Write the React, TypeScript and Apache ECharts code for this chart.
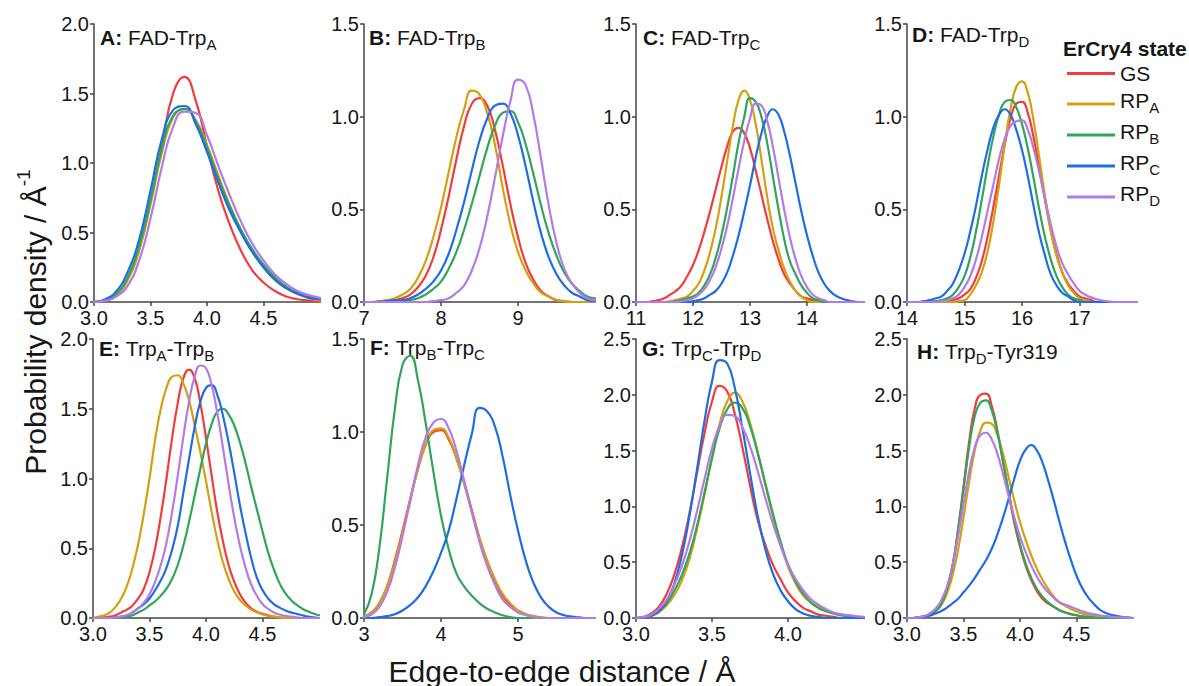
import React, { useEffect, useRef } from "react";
import * as echarts from "echarts";

const FONT = '"Liberation Sans", Arial, Helvetica, sans-serif';
const TXT = "#161616";
const AXIS = "#454545";
const COLORS = ["#f23c3c", "#d4a010", "#2fa65a", "#1f6de2", "#b47be6"];
const NAMES = ["GS", "RP_A", "RP_B", "RP_C", "RP_D"];

// ---------- x sampling grids ----------
const xA = [3.0,3.1,3.2,3.3,3.4,3.5,3.6,3.7,3.8,3.9,4.0,4.1,4.2,4.3,4.4,4.5,4.6,4.7,4.8,4.9,5.0];
const xB = [7.0,7.1,7.2,7.3,7.4,7.5,7.6,7.7,7.8,7.9,8.0,8.1,8.2,8.3,8.4,8.5,8.6,8.7,8.8,8.9,9.0,9.1,9.2,9.3,9.4,9.5,9.6,9.7,9.8,9.9,10.0];
const xC = [11.0,11.1,11.2,11.3,11.4,11.5,11.6,11.7,11.8,11.9,12.0,12.1,12.2,12.3,12.4,12.5,12.6,12.7,12.8,12.9,13.0,13.1,13.2,13.3,13.4,13.5,13.6,13.7,13.8,13.9,14.0,14.1,14.2,14.3,14.4,14.5,14.6,14.7,14.8,14.9,15.0];
const xD = [14.0,14.1,14.2,14.3,14.4,14.5,14.6,14.7,14.8,14.9,15.0,15.1,15.2,15.3,15.4,15.5,15.6,15.7,15.8,15.9,16.0,16.1,16.2,16.3,16.4,16.5,16.6,16.7,16.8,16.9,17.0,17.1,17.2,17.3,17.4,17.5,17.6,17.7,17.8,17.9,18.0];
const xE = [3.00,3.05,3.10,3.15,3.20,3.25,3.30,3.35,3.40,3.45,3.50,3.55,3.60,3.65,3.70,3.75,3.80,3.85,3.90,3.95,4.00,4.05,4.10,4.15,4.20,4.25,4.30,4.35,4.40,4.45,4.50,4.55,4.60,4.65,4.70,4.75,4.80,4.85,4.90,4.95,5.00];
const xF = [3.0,3.1,3.2,3.3,3.4,3.5,3.6,3.7,3.8,3.9,4.0,4.1,4.2,4.3,4.4,4.5,4.6,4.7,4.8,4.9,5.0,5.1,5.2,5.3,5.4,5.5,5.6,5.7,5.8,5.9,6.0];
const xG = [3.00,3.05,3.10,3.15,3.20,3.25,3.30,3.35,3.40,3.45,3.50,3.55,3.60,3.65,3.70,3.75,3.80,3.85,3.90,3.95,4.00,4.05,4.10,4.15,4.20,4.25,4.30,4.35,4.40,4.45,4.50];
const xH = [3.00,3.05,3.10,3.15,3.20,3.25,3.30,3.35,3.40,3.45,3.50,3.55,3.60,3.65,3.70,3.75,3.80,3.85,3.90,3.95,4.00,4.05,4.10,4.15,4.20,4.25,4.30,4.35,4.40,4.45,4.50,4.55,4.60,4.65,4.70,4.75,4.80,4.85,4.90,4.95,5.00];

// ---------- A: FAD-TrpA ----------
const aGS  = [0,0.01,0.05,0.17,0.38,0.72,1.12,1.50,1.62,1.45,1.12,0.80,0.56,0.37,0.23,0.14,0.08,0.04,0.02,0.01,0];
const aRPA = [0,0.01,0.05,0.16,0.37,0.70,1.07,1.33,1.39,1.31,1.13,0.91,0.70,0.52,0.37,0.25,0.16,0.10,0.06,0.03,0.01];
const aRPB = [0,0.01,0.06,0.18,0.40,0.73,1.10,1.34,1.39,1.30,1.11,0.89,0.69,0.52,0.38,0.27,0.18,0.11,0.07,0.04,0.02];
const aRPC = [0,0.02,0.08,0.22,0.45,0.80,1.17,1.38,1.41,1.28,1.08,0.86,0.66,0.50,0.36,0.25,0.16,0.10,0.06,0.03,0.02];
const aRPD = [0,0.01,0.04,0.12,0.30,0.60,0.97,1.26,1.37,1.36,1.20,0.98,0.77,0.58,0.42,0.30,0.20,0.13,0.08,0.05,0.03];

// ---------- B: FAD-TrpB ----------
const bGS  = [0,0,0,0.005,0.01,0.02,0.04,0.08,0.14,0.24,0.39,0.57,0.77,0.95,1.07,1.10,1.06,0.93,0.74,0.53,0.35,0.21,0.12,0.06,0.03,0.01,0.005,0,0,0,0];
const bRPA = [0,0,0.005,0.01,0.02,0.04,0.07,0.13,0.22,0.35,0.51,0.70,0.89,1.04,1.14,1.12,1.02,0.85,0.62,0.42,0.27,0.17,0.10,0.05,0.03,0.01,0.005,0,0,0,0];
const bRPB = [0,0,0,0,0,0.005,0.01,0.02,0.04,0.07,0.11,0.18,0.27,0.39,0.53,0.68,0.83,0.95,1.02,1.03,0.97,0.85,0.69,0.52,0.37,0.25,0.16,0.10,0.06,0.03,0.02];
const bRPC = [0,0,0.002,0.005,0.01,0.01,0.02,0.04,0.07,0.11,0.17,0.26,0.39,0.54,0.71,0.87,0.99,1.06,1.07,1.02,0.90,0.73,0.54,0.37,0.24,0.15,0.09,0.05,0.03,0.01,0.005];
const bRPD = [0,0,0,0,0,0,0,0,0,0.005,0.01,0.02,0.05,0.09,0.17,0.29,0.46,0.67,0.89,1.08,1.20,1.17,1.01,0.77,0.52,0.32,0.18,0.10,0.05,0.02,0.01];

// ---------- C: FAD-TrpC ----------
const cGS  = [0,0,0,0.005,0.01,0.02,0.04,0.06,0.09,0.14,0.20,0.28,0.38,0.49,0.61,0.73,0.84,0.92,0.94,0.91,0.83,0.71,0.58,0.45,0.33,0.23,0.15,0.10,0.06,0.03,0.02,0.01,0.005,0,0,0,0,0,0,0,0];
const cRPA = [0,0,0,0,0,0,0.005,0.01,0.02,0.03,0.06,0.10,0.17,0.27,0.40,0.57,0.76,0.95,1.09,1.14,1.09,0.96,0.77,0.57,0.40,0.28,0.18,0.11,0.06,0.03,0.01,0,0,0,0,0,0,0,0,0,0];
const cRPB = [0,0,0,0,0,0,0,0.005,0.01,0.02,0.03,0.05,0.09,0.15,0.24,0.36,0.51,0.68,0.86,1.00,1.10,1.08,1.00,0.86,0.68,0.50,0.34,0.22,0.15,0.09,0.05,0.02,0.01,0,0,0,0,0,0,0,0];
const cRPC = [0,0,0,0,0,0,0,0,0,0,0.005,0.01,0.02,0.04,0.06,0.10,0.16,0.25,0.36,0.49,0.63,0.78,0.91,1.00,1.04,1.01,0.92,0.79,0.64,0.49,0.36,0.25,0.16,0.10,0.06,0.035,0.02,0.01,0.004,0,0];
const cRPD = [0,0,0,0,0,0,0,0,0.005,0.01,0.02,0.04,0.07,0.12,0.19,0.29,0.41,0.56,0.72,0.87,0.99,1.07,1.06,0.98,0.84,0.67,0.50,0.35,0.23,0.14,0.08,0.04,0.02,0.01,0,0,0,0,0,0,0];

// ---------- D: FAD-TrpD ----------
const dGS  = [0,0,0,0,0,0,0,0.005,0.01,0.02,0.04,0.07,0.13,0.22,0.35,0.51,0.68,0.85,0.99,1.07,1.08,1.02,0.89,0.72,0.55,0.39,0.26,0.16,0.10,0.06,0.03,0.02,0.01,0,0,0,0,0,0,0,0];
const dRPA = [0,0,0,0,0,0,0,0,0,0.005,0.01,0.04,0.09,0.16,0.27,0.43,0.63,0.85,1.04,1.16,1.19,1.13,0.98,0.78,0.57,0.38,0.25,0.16,0.09,0.05,0.02,0.01,0,0,0,0,0,0,0,0,0];
const dRPB = [0,0,0,0,0,0.005,0.01,0.02,0.04,0.08,0.14,0.24,0.38,0.55,0.73,0.89,1.01,1.08,1.09,1.05,0.96,0.83,0.67,0.50,0.35,0.23,0.14,0.08,0.04,0.02,0.01,0,0,0,0,0,0,0,0,0,0];
const dRPC = [0,0,0,0.005,0.01,0.02,0.03,0.06,0.10,0.17,0.26,0.38,0.52,0.68,0.82,0.94,1.01,1.04,1.01,0.93,0.82,0.68,0.52,0.37,0.25,0.15,0.09,0.05,0.03,0.01,0,0,0,0,0,0,0,0,0,0,0];
const dRPD = [0,0,0,0,0,0,0.005,0.01,0.02,0.04,0.08,0.14,0.23,0.35,0.49,0.63,0.77,0.88,0.95,0.975,0.98,0.93,0.83,0.70,0.56,0.42,0.30,0.21,0.15,0.10,0.06,0.04,0.025,0.015,0.008,0.004,0,0,0,0,0];

// ---------- E: TrpA-TrpB ----------
const eGS  = [0,0,0.005,0.01,0.02,0.04,0.06,0.09,0.14,0.21,0.33,0.50,0.73,1.00,1.29,1.54,1.72,1.78,1.72,1.54,1.29,1.02,0.76,0.55,0.38,0.26,0.17,0.11,0.07,0.045,0.03,0.02,0.01,0.005,0,0,0,0,0,0,0];
const eRPA = [0,0.01,0.02,0.04,0.08,0.14,0.23,0.36,0.53,0.75,1.00,1.28,1.50,1.65,1.73,1.74,1.68,1.56,1.38,1.19,0.98,0.76,0.56,0.40,0.28,0.19,0.13,0.09,0.06,0.04,0.025,0.015,0.01,0.005,0,0,0,0,0,0,0];
const eRPB = [0,0,0,0,0,0.005,0.01,0.02,0.04,0.06,0.09,0.12,0.16,0.21,0.28,0.38,0.52,0.69,0.88,1.07,1.25,1.39,1.48,1.50,1.46,1.38,1.26,1.11,0.94,0.78,0.62,0.47,0.35,0.25,0.18,0.13,0.095,0.068,0.048,0.032,0.02];
const eRPC = [0,0,0,0,0.005,0.01,0.02,0.04,0.07,0.10,0.14,0.20,0.27,0.36,0.49,0.66,0.90,1.14,1.37,1.55,1.65,1.67,1.60,1.45,1.26,1.04,0.81,0.61,0.43,0.29,0.20,0.14,0.10,0.075,0.055,0.04,0.03,0.02,0.01,0.005,0];
const eRPD = [0,0,0,0,0.005,0.01,0.02,0.04,0.07,0.11,0.17,0.26,0.38,0.54,0.76,1.02,1.30,1.55,1.73,1.81,1.79,1.67,1.47,1.22,0.96,0.72,0.52,0.36,0.24,0.16,0.10,0.065,0.04,0.025,0.015,0.01,0.005,0,0,0,0];

// ---------- F: TrpB-TrpC ----------
const fGS  = [0.01,0.03,0.08,0.17,0.31,0.47,0.64,0.80,0.93,1.00,1.01,0.96,0.86,0.73,0.58,0.43,0.30,0.20,0.12,0.07,0.04,0.02,0.01,0,0,0,0,0,0,0,0];
const fRPA = [0.01,0.03,0.08,0.17,0.30,0.46,0.63,0.80,0.93,1.01,1.02,0.97,0.86,0.72,0.57,0.43,0.31,0.21,0.13,0.08,0.04,0.02,0.01,0.005,0,0,0,0,0,0,0];
const fRPB = [0.02,0.13,0.38,0.75,1.12,1.36,1.41,1.28,1.05,0.79,0.55,0.37,0.24,0.17,0.12,0.08,0.05,0.03,0.015,0.005,0,0,0,0,0,0,0,0,0,0,0];
const fRPC = [0,0,0.005,0.01,0.02,0.04,0.07,0.11,0.17,0.25,0.35,0.47,0.64,0.82,0.99,1.13,1.11,1.03,0.87,0.66,0.47,0.31,0.19,0.11,0.06,0.03,0.015,0.007,0.003,0,0];
const fRPD = [0.005,0.02,0.06,0.14,0.27,0.44,0.63,0.82,0.97,1.05,1.07,1.02,0.90,0.74,0.57,0.41,0.28,0.18,0.10,0.06,0.03,0.015,0.005,0,0,0,0,0,0,0,0];

// ---------- G: TrpC-TrpD ----------
const gGS  = [0,0.01,0.04,0.10,0.21,0.38,0.62,0.93,1.29,1.65,1.94,2.08,2.03,1.83,1.53,1.19,0.88,0.66,0.48,0.35,0.23,0.15,0.09,0.06,0.03,0.02,0.01,0,0,0,0];
const gRPA = [0,0.005,0.02,0.05,0.11,0.20,0.33,0.52,0.79,1.10,1.44,1.74,1.94,2.02,1.94,1.75,1.49,1.20,0.92,0.67,0.46,0.31,0.20,0.14,0.10,0.07,0.04,0.025,0.015,0.01,0.005];
const gRPB = [0,0.005,0.02,0.06,0.13,0.24,0.38,0.57,0.82,1.12,1.43,1.70,1.87,1.93,1.88,1.72,1.48,1.21,0.94,0.69,0.48,0.33,0.22,0.14,0.09,0.06,0.04,0.025,0.015,0.01,0.005];
const gRPC = [0,0.005,0.02,0.06,0.15,0.30,0.55,0.90,1.32,1.76,2.12,2.31,2.28,2.06,1.70,1.30,0.92,0.62,0.40,0.25,0.15,0.08,0.04,0.02,0.01,0,0,0,0,0,0];
const gRPD = [0,0.01,0.03,0.08,0.16,0.29,0.46,0.68,0.95,1.24,1.52,1.72,1.82,1.81,1.71,1.54,1.32,1.08,0.85,0.65,0.48,0.35,0.25,0.17,0.12,0.08,0.05,0.035,0.025,0.015,0.01];

// ---------- H: TrpD-Tyr319 ----------
const hGS  = [0,0,0.005,0.015,0.03,0.06,0.12,0.25,0.45,0.78,1.18,1.58,1.88,2.00,2.01,1.90,1.68,1.40,1.12,0.85,0.64,0.47,0.34,0.24,0.17,0.13,0.10,0.07,0.05,0.035,0.025,0.015,0.01,0.005,0,0,0,0,0,0,0];
const hRPA = [0,0,0.005,0.01,0.03,0.06,0.11,0.21,0.37,0.60,0.90,1.22,1.50,1.68,1.75,1.74,1.64,1.47,1.26,1.05,0.86,0.70,0.56,0.44,0.34,0.26,0.19,0.14,0.11,0.08,0.06,0.04,0.03,0.02,0.015,0.01,0.005,0,0,0,0];
const hRPB = [0,0,0.005,0.015,0.03,0.06,0.12,0.25,0.45,0.77,1.15,1.53,1.81,1.93,1.95,1.86,1.66,1.40,1.13,0.87,0.66,0.49,0.36,0.26,0.19,0.14,0.10,0.07,0.05,0.035,0.025,0.015,0.01,0.005,0,0,0,0,0,0,0];
const hRPC = [0,0,0.005,0.01,0.02,0.04,0.06,0.09,0.13,0.17,0.23,0.29,0.36,0.44,0.52,0.62,0.75,0.90,1.07,1.25,1.41,1.51,1.55,1.50,1.39,1.23,1.05,0.86,0.68,0.52,0.38,0.27,0.19,0.13,0.08,0.05,0.03,0.02,0.01,0.005,0];
const hRPD = [0,0,0.005,0.015,0.04,0.08,0.15,0.27,0.46,0.72,1.02,1.31,1.53,1.64,1.66,1.60,1.47,1.29,1.09,0.90,0.73,0.59,0.47,0.37,0.29,0.23,0.18,0.14,0.12,0.10,0.08,0.06,0.045,0.035,0.025,0.018,0.012,0.008,0.005,0.003,0];

// ---------- panel layout ----------
const PANELS = [
  { x: xA, ys: [aGS, aRPA, aRPB, aRPC, aRPD], xMin: 3, xMax: 5, xInt: 0.5, dec: 1, yMax: 2.0, left: 94, top: 24, width: 226, height: 278,
    title: "{b|A:}{t|\u00a0FAD-Trp}{s|A}", tx: 100, ty: 27 },
  { x: xB, ys: [bGS, bRPA, bRPB, bRPC, bRPD], xMin: 7, xMax: 10, xInt: 1, dec: 0, yMax: 1.5, left: 364, top: 24, width: 231, height: 278,
    title: "{b|B:}{t|\u00a0FAD-Trp}{s|B}", tx: 369, ty: 27 },
  { x: xC, ys: [cGS, cRPA, cRPB, cRPC, cRPD], xMin: 11, xMax: 15, xInt: 1, dec: 0, yMax: 1.5, left: 636, top: 24, width: 228, height: 278,
    title: "{b|C:}{t|\u00a0FAD-Trp}{s|C}", tx: 643, ty: 27 },
  { x: xD, ys: [dGS, dRPA, dRPB, dRPC, dRPD], xMin: 14, xMax: 18, xInt: 1, dec: 0, yMax: 1.5, left: 907, top: 24, width: 230, height: 278,
    title: "{b|D:}{t|\u00a0FAD-Trp}{s|D}", tx: 912, ty: 24 },
  { x: xE, ys: [eGS, eRPA, eRPB, eRPC, eRPD], xMin: 3, xMax: 5, xInt: 0.5, dec: 1, yMax: 2.0, left: 93, top: 339, width: 226, height: 279,
    title: "{b|E:}{t|\u00a0Trp}{s|A}{t|-Trp}{s|B}", tx: 99, ty: 338 },
  { x: xF, ys: [fGS, fRPA, fRPB, fRPC, fRPD], xMin: 3, xMax: 6, xInt: 1, dec: 0, yMax: 1.5, left: 364, top: 339, width: 231, height: 279,
    title: "{b|F:}{t|\u00a0Trp}{s|B}{t|-Trp}{s|C}", tx: 370, ty: 337 },
  { x: xG, ys: [gGS, gRPA, gRPB, gRPC, gRPD], xMin: 3, xMax: 4.5, xInt: 0.5, dec: 1, yMax: 2.5, left: 636, top: 339, width: 228, height: 279,
    title: "{b|G:}{t|\u00a0Trp}{s|C}{t|-Trp}{s|D}", tx: 642, ty: 338 },
  { x: xH, ys: [hGS, hRPA, hRPB, hRPC, hRPD], xMin: 3, xMax: 5, xInt: 0.5, dec: 1, yMax: 2.5, left: 907, top: 339, width: 226, height: 279,
    title: "{b|H:}{t|\u00a0Trp}{s|D}{t|-Tyr319}", tx: 917, ty: 341 },
];

const titleRich = {
  b: { fontFamily: FONT, fontSize: 21, fontWeight: "bold", color: TXT, verticalAlign: "bottom", lineHeight: 22, padding: [0, 0, 4, 0] },
  t: { fontFamily: FONT, fontSize: 21, color: TXT, verticalAlign: "bottom", lineHeight: 22, padding: [0, 0, 4, 0] },
  s: { fontFamily: FONT, fontSize: 15, color: TXT, verticalAlign: "bottom", lineHeight: 16 },
};

function legendLabel(name: string): string {
  const parts = name.split("_");
  if (parts.length === 1) return "{g|" + name + "}";
  return "{n|" + parts[0] + "}{s|" + parts[1] + "}";
}

export default function App() {
  const ref = useRef<HTMLDivElement>(null);
  useEffect(() => {
    if (!ref.current) return;
    const chart = echarts.init(ref.current, undefined, { renderer: "svg" });
    const axisLine = { show: true, onZero: false, lineStyle: { color: AXIS, width: 1.5 } };
    const axisTick = { show: true, length: 4, inside: false, lineStyle: { color: AXIS, width: 1.5 } };
    const option: any = {
      animation: false,
      backgroundColor: "#ffffff",
      grid: PANELS.map((p) => ({ left: p.left, top: p.top, width: p.width, height: p.height, containLabel: false })),
      xAxis: PANELS.map((p, i) => ({
        gridIndex: i, type: "value", min: p.xMin, max: p.xMax, interval: p.xInt,
        axisLine, axisTick, splitLine: { show: false },
        axisLabel: { showMaxLabel: false, margin: 6, fontSize: 20, fontFamily: FONT, color: TXT,
          formatter: (v: number) => v.toFixed(p.dec) },
      })),
      yAxis: PANELS.map((p, i) => ({
        gridIndex: i, type: "value", min: 0, max: p.yMax, interval: 0.5,
        axisLine, axisTick, splitLine: { show: false },
        axisLabel: { margin: 5, fontSize: 20, fontFamily: FONT, color: TXT, formatter: (v: number) => v.toFixed(1) },
      })),
      legend: {
        orient: "vertical", left: 1062, top: 58, itemWidth: 48, itemHeight: 3, itemGap: 6, icon: "rect",
        selectedMode: false, data: NAMES, formatter: legendLabel,
        textStyle: {
          fontFamily: FONT, fontSize: 21, color: TXT,
          rich: {
            g: { fontFamily: FONT, fontSize: 21, color: TXT, lineHeight: 22 },
            n: { fontFamily: FONT, fontSize: 21, color: TXT, verticalAlign: "bottom", lineHeight: 22, padding: [0, 0, 4, 0] },
            s: { fontFamily: FONT, fontSize: 15, color: TXT, verticalAlign: "bottom", lineHeight: 16 },
          },
        },
      },
      graphic: [
        ...PANELS.map((p) => ({
          type: "text", left: p.tx, top: p.ty, silent: true,
          style: { text: p.title, rich: titleRich, fill: TXT },
        })),
        {
          type: "text", x: 1063, y: 48, silent: true,
          style: { text: "ErCry4 state", font: 'bold 21px "Liberation Sans", Arial, sans-serif', fill: TXT, verticalAlign: "middle", align: "left" },
        },
        {
          type: "text", x: 562, y: 671, silent: true,
          style: { text: "Edge-to-edge distance / \u00c5", font: '30px "Liberation Sans", Arial, sans-serif', fill: TXT, align: "center", verticalAlign: "middle" },
        },
        {
          type: "text", x: 30, y: 322, rotation: Math.PI / 2, silent: true,
          style: {
            text: "{m|Probability density / \u00c5}{p|-1}", align: "center", verticalAlign: "middle", fill: TXT,
            rich: {
              m: { fontFamily: FONT, fontSize: 30, color: TXT, verticalAlign: "top", lineHeight: 32, padding: [6, 0, 0, 0] },
              p: { fontFamily: FONT, fontSize: 19, color: TXT, verticalAlign: "top", lineHeight: 20 },
            },
          },
        },
      ],
      series: PANELS.flatMap((p, i) =>
        p.ys.map((ys, k) => ({
          type: "line", name: NAMES[k], xAxisIndex: i, yAxisIndex: i,
          data: p.x.map((x, j) => [x, ys[j]]),
          showSymbol: false, symbol: "none", smooth: 0.5, silent: true,
          lineStyle: { color: COLORS[k], width: 2.2, join: "round", cap: "round" }, itemStyle: { color: COLORS[k] },
          emphasis: { disabled: true },
        }))
      ),
    };
    chart.setOption(option);
    return () => chart.dispose();
  }, []);
  return <div ref={ref} style={{ position: "fixed", left: 0, top: 0, width: 1189, height: 686, background: "#fff" }} />;
}
